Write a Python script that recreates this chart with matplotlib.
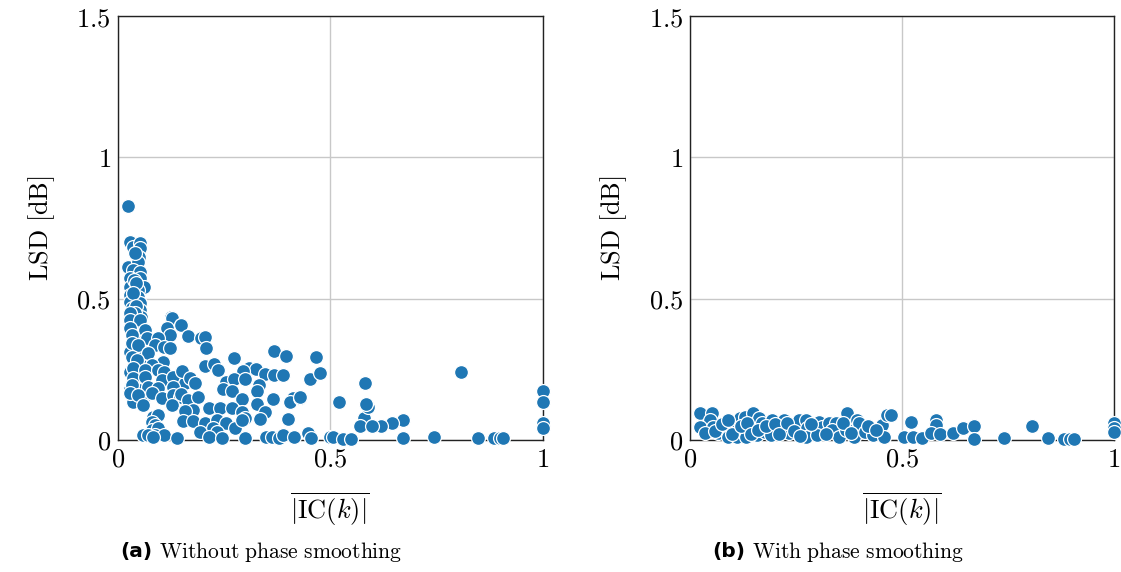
import matplotlib
matplotlib.use("Agg")
import matplotlib.pyplot as plt

plt.rcParams['mathtext.fontset'] = 'cm'
plt.rcParams['font.family'] = ['DejaVu Serif']

# --- data ---
# (a) without phase smoothing
x_a = [0.024, 0.028, 0.035, 0.052, 0.052, 0.049, 0.024, 0.047, 0.035, 0.052,
       0.028, 0.052, 0.028, 0.061, 0.047, 0.028, 0.047, 0.028, 0.052, 0.033,
       0.052, 0.028, 0.054, 0.125,
       0.040, 0.038, 0.044, 0.036, 0.042, 0.040, 0.036, 0.045, 0.040, 0.050,
       0.038, 0.055, 0.042, 0.030, 0.050, 0.040, 0.055, 0.030, 0.045, 0.055,
       0.040, 0.030, 0.050, 0.040, 0.060, 0.035,
       0.028, 0.028, 0.052, 0.028, 0.064, 0.127, 0.148, 0.115, 0.122, 0.165,
       0.033, 0.068, 0.094, 0.033, 0.047, 0.087, 0.110, 0.122, 0.071, 0.033,
       0.045, 0.106, 0.080, 0.035, 0.064, 0.094, 0.110, 0.150, 0.035, 0.064,
       0.104, 0.130, 0.158, 0.033, 0.071, 0.094, 0.130, 0.028, 0.047, 0.080,
       0.104, 0.130, 0.146, 0.059, 0.127, 0.158, 0.082, 0.094, 0.080, 0.153,
       0.087, 0.080, 0.094, 0.068, 0.075, 0.087, 0.110, 0.139, 0.059, 0.071,
       0.082,
       0.150, 0.165, 0.195, 0.205, 0.207, 0.273, 0.369, 0.152, 0.205, 0.226,
       0.236, 0.310, 0.325, 0.295, 0.346, 0.254, 0.273, 0.300, 0.169, 0.181,
       0.247, 0.268, 0.332, 0.327, 0.367, 0.365, 0.292, 0.150, 0.165, 0.188,
       0.216, 0.240, 0.268, 0.327, 0.346, 0.292, 0.300, 0.177, 0.158, 0.153,
       0.177, 0.205, 0.233, 0.256, 0.275, 0.292, 0.334, 0.224, 0.233, 0.193,
       0.216, 0.245, 0.300, 0.350, 0.370,
       0.395, 0.466, 0.388, 0.452, 0.475, 0.412, 0.405, 0.430, 0.402, 0.522,
       0.581, 0.580, 0.570, 0.363, 0.380, 0.390, 0.414, 0.447, 0.456, 0.500,
       0.506, 0.530, 0.550, 0.807, 1.000, 1.000, 1.000, 1.000, 0.847, 0.885,
       0.899, 0.908, 0.744, 0.671, 0.671, 0.645, 0.620, 0.598, 0.590, 0.585,
       0.428]
y_a = [0.827, 0.700, 0.682, 0.696, 0.678, 0.647, 0.611, 0.629, 0.600, 0.594,
       0.572, 0.572, 0.541, 0.541, 0.530, 0.512, 0.505, 0.488, 0.484, 0.466,
       0.459, 0.442, 0.435, 0.435,
       0.660, 0.565, 0.555, 0.520, 0.475, 0.450, 0.415, 0.400, 0.385, 0.370,
       0.355, 0.345, 0.320, 0.310, 0.300, 0.275, 0.265, 0.240, 0.235, 0.210,
       0.205, 0.180, 0.175, 0.150, 0.145, 0.135,
       0.449, 0.424, 0.424, 0.396, 0.389, 0.431, 0.406, 0.396, 0.371, 0.367,
       0.371, 0.360, 0.360, 0.343, 0.336, 0.336, 0.329, 0.325, 0.307, 0.293,
       0.283, 0.276, 0.265, 0.254, 0.247, 0.247, 0.240, 0.240, 0.219, 0.223,
       0.212, 0.223, 0.200, 0.194, 0.187, 0.184, 0.187, 0.166, 0.159, 0.166,
       0.148, 0.159, 0.152, 0.124, 0.124, 0.106, 0.081, 0.088, 0.064, 0.071,
       0.053, 0.035, 0.042, 0.018, 0.014, 0.018, 0.018, 0.007, 0.018, 0.018,
       0.011,
       0.406, 0.367, 0.360, 0.365, 0.326, 0.290, 0.315, 0.245, 0.260, 0.268,
       0.248, 0.254, 0.250, 0.245, 0.233, 0.205, 0.215, 0.215, 0.219, 0.200,
       0.180, 0.173, 0.194, 0.173, 0.230, 0.145, 0.145, 0.163, 0.141, 0.152,
       0.113, 0.113, 0.113, 0.127, 0.099, 0.099, 0.078, 0.106, 0.102, 0.067,
       0.067, 0.060, 0.071, 0.060, 0.042, 0.071, 0.074, 0.042, 0.028, 0.028,
       0.011, 0.007, 0.007, 0.011, 0.011,
       0.297, 0.293, 0.230, 0.215, 0.237, 0.148, 0.134, 0.148, 0.074, 0.134,
       0.200, 0.078, 0.050, 0.010, 0.006, 0.017, 0.010, 0.025, 0.006, 0.010,
       0.010, 0.004, 0.004, 0.240, 0.173, 0.134, 0.060, 0.042, 0.007, 0.007,
       0.007, 0.007, 0.011, 0.071, 0.007, 0.060, 0.050, 0.050, 0.117, 0.127,
       0.152]

# (b) with phase smoothing
x_b = [0.023, 0.052, 0.047, 0.023, 0.054, 0.035, 0.066, 0.082, 0.089, 0.110,
       0.117, 0.129, 0.148, 0.105, 0.124, 0.141, 0.112, 0.133, 0.157, 0.164,
       0.171, 0.157, 0.176, 0.194, 0.215, 0.204, 0.192, 0.222, 0.234, 0.253,
       0.258,
       0.274, 0.304, 0.311, 0.276, 0.274, 0.300, 0.328, 0.344, 0.335, 0.351,
       0.368, 0.370, 0.391, 0.393, 0.398, 0.386, 0.414, 0.433, 0.452, 0.464,
       0.475, 0.457, 0.504, 0.527,
       0.522, 0.548, 0.581, 0.581, 0.569, 0.590, 0.621, 0.644, 0.670, 0.670,
       0.742, 0.806, 0.846, 0.883, 0.897, 0.906, 1.000, 1.000, 1.000,
       0.060, 0.075, 0.090, 0.100, 0.120, 0.135, 0.145, 0.160, 0.180, 0.200,
       0.210, 0.230, 0.245, 0.260, 0.285, 0.320, 0.360, 0.380, 0.420, 0.440]
y_b = [0.095, 0.095, 0.071, 0.046, 0.046, 0.025, 0.025, 0.042, 0.011, 0.064,
       0.078, 0.081, 0.095, 0.035, 0.042, 0.035, 0.011, 0.011, 0.046, 0.078,
       0.060, 0.018, 0.028, 0.071, 0.046, 0.035, 0.018, 0.071, 0.025, 0.046,
       0.071,
       0.071, 0.064, 0.046, 0.042, 0.011, 0.018, 0.060, 0.060, 0.035, 0.011,
       0.035, 0.095, 0.042, 0.071, 0.060, 0.011, 0.028, 0.018, 0.053, 0.088,
       0.088, 0.011, 0.011, 0.011,
       0.064, 0.007, 0.071, 0.053, 0.025, 0.021, 0.025, 0.042, 0.050, 0.004,
       0.007, 0.050, 0.007, 0.004, 0.004, 0.004, 0.060, 0.042, 0.028,
       0.030, 0.055, 0.070, 0.020, 0.050, 0.060, 0.020, 0.035, 0.050, 0.055,
       0.020, 0.060, 0.030, 0.015, 0.055, 0.020, 0.060, 0.025, 0.050, 0.035]

panels = [
    (x_a, y_a, '(a)', 'Without phase smoothing'),
    (x_b, y_b, '(b)', 'With phase smoothing'),
]

fig = plt.figure(figsize=(11.21, 5.72), dpi=100)
ax_pos = [[0.105, 0.231, 0.379, 0.741], [0.6155, 0.231, 0.378, 0.741]]
cap_x = [(120, 159), (712, 752)]

for i, (xs, ys, tag, cap) in enumerate(panels):
    ax = fig.add_axes(ax_pos[i])
    ax.scatter(xs, ys, s=100, color='#1f77b4', edgecolor='white',
               linewidth=0.9, zorder=3, clip_on=False)
    ax.set_xlim(0, 1)
    ax.set_ylim(0, 1.5)
    ax.set_xticks([0, 0.5, 1])
    ax.set_xticklabels(['$0$', '$0.5$', '$1$'])
    ax.set_yticks([0, 0.5, 1, 1.5])
    ax.set_yticklabels(['$0$', '$0.5$', '$1$', '$1.5$'])
    ax.tick_params(length=0, labelsize=19, pad=5)
    ax.grid(True, color='#c8c8c8', linewidth=1.0, zorder=0)
    for sp in ax.spines.values():
        sp.set_linewidth(1.0)
        sp.set_color('#222222')
    ax.set_xlabel(r'$\overline{|\mathrm{IC}(k)|}$', fontsize=19, labelpad=13)
    ax.set_ylabel(r'$\mathrm{LSD\ [dB]}$', fontsize=19, labelpad=14)

    fig.text(cap_x[i][0] / 1121, 1 - 552 / 572, tag, fontsize=14.5,
             fontweight='bold', family='DejaVu Sans', va='center', ha='left')
    fig.text(cap_x[i][1] / 1121, 1 - 552 / 572,
             r'$\mathrm{' + cap.replace(' ', r'\ ') + '}$',
             fontsize=15.5, va='center', ha='left')

fig.savefig('out.png', dpi=100)
